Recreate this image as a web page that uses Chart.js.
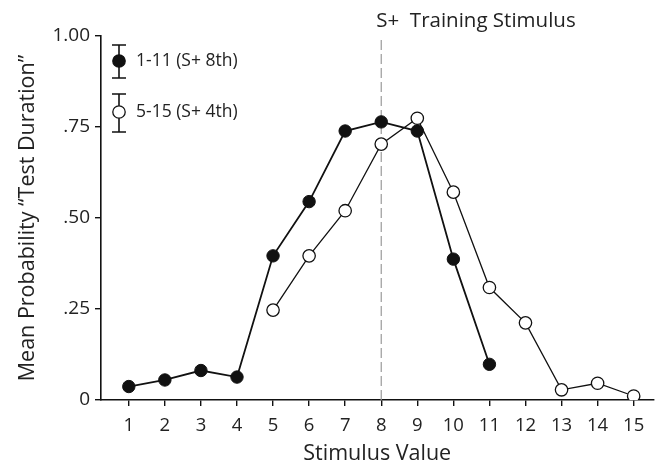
<!DOCTYPE html>
<html>
<head>
<meta charset="utf-8">
<script src="https://cdn.jsdelivr.net/npm/chart.js@4"></script>
<style>
  html, body { margin: 0; padding: 0; background: #fff; }
  #wrap { width: 661px; height: 467px; }
</style>
</head>
<body>
<div id="wrap"><canvas id="chart" width="661" height="467"></canvas></div>
<script>
'use strict';

// stimulus values (x)
var stimA = [1, 2, 3, 4, 5, 6, 7, 8, 9, 10, 11];
var stimB = [5, 6, 7, 8, 9, 10, 11, 12, 13, 14, 15];
// mean probability of "test duration"
var probA = [0.037, 0.055, 0.081, 0.063, 0.396, 0.545, 0.739, 0.764, 0.739, 0.387, 0.098];
var probB = [0.247, 0.396, 0.520, 0.703, 0.774, 0.571, 0.309, 0.212, 0.028, 0.046, 0.011];
var labelA = '1-11 (S+ 8th)';
var labelB = '5-15 (S+ 4th)';
var xTicks = [1, 2, 3, 4, 5, 6, 7, 8, 9, 10, 11, 12, 13, 14, 15];
var yTicks = [0, 0.25, 0.5, 0.75, 1.0];
var yTickLabels = ['0', '.25', '.50', '.75', '1.00'];
var trainingStim = 8;

var FONT = '"Open Sans", "DejaVu Sans", sans-serif';

function toXY(xs, ys) {
    var out = [];
    for (var i = 0; i < xs.length; ++i) {
        out.push({ x: xs[i], y: ys[i] });
    }
    return out;
}

// title over the dashed line plus the little legend with error bars
var annotate = {
    id: 'annotate',
    afterDraw: function (chart) {
        var ctx = chart.ctx;
        var xs = chart.scales.x;
        ctx.save();
        ctx.fillStyle = '#222';
        ctx.textBaseline = 'alphabetic';
        ctx.textAlign = 'left';
        ctx.font = '20.5px ' + FONT;
        ctx.fillText('S+  Training Stimulus', xs.getPixelForValue(trainingStim) - 5, 27);

        var items = [
            { cy: 61, top: 45, bot: 78, fill: '#111', text: labelA },
            { cy: 112, top: 94, bot: 132, fill: '#fff', text: labelB }
        ];
        var cx = 119;
        ctx.strokeStyle = '#111';
        ctx.lineWidth = 1.6;
        for (var i = 0; i < items.length; ++i) {
            var it = items[i];
            ctx.beginPath();
            ctx.moveTo(cx, it.top); ctx.lineTo(cx, it.bot);
            ctx.moveTo(cx - 7, it.top); ctx.lineTo(cx + 7, it.top);
            ctx.moveTo(cx - 7, it.bot); ctx.lineTo(cx + 7, it.bot);
            ctx.stroke();
            ctx.beginPath();
            ctx.arc(cx, it.cy, 6.2, 0, Math.PI * 2);
            ctx.fillStyle = it.fill;
            ctx.fill();
            ctx.lineWidth = 1.3;
            ctx.stroke();
            ctx.lineWidth = 1.6;
            ctx.fillStyle = '#222';
            ctx.font = '17.5px ' + FONT;
            ctx.textBaseline = 'middle';
            ctx.fillText(it.text, 136, it.cy);
        }
        ctx.restore();
    }
};

var ctx = document.getElementById('chart').getContext('2d');
var chart = new Chart(ctx, {
    type: 'line',
    data: {
        datasets: [
            {
                label: labelA,
                data: toXY(stimA, probA),
                borderColor: '#111',
                borderWidth: 1.8,
                backgroundColor: '#111',
                pointBackgroundColor: '#111',
                pointBorderColor: '#111',
                pointBorderWidth: 1,
                pointRadius: 6.2,
                tension: 0,
                order: 0
            },
            {
                label: labelB,
                data: toXY(stimB, probB),
                borderColor: '#111',
                borderWidth: 1.3,
                backgroundColor: '#fff',
                pointBackgroundColor: '#fff',
                pointBorderColor: '#111',
                pointBorderWidth: 1.3,
                pointRadius: 6.2,
                tension: 0,
                order: 1
            },
            {
                label: 'S+',
                data: [{ x: trainingStim, y: 0 }, { x: trainingStim, y: 0.995 }],
                borderColor: '#999',
                borderWidth: 1.2,
                borderDash: [10, 4],
                pointRadius: 0,
                order: 2
            }
        ]
    },
    options: {
        responsive: false,
        animation: false,
        layout: { padding: { top: 36, right: 3, left: 0, bottom: 0 } },
        plugins: {
            legend: { display: false },
            tooltip: { enabled: false },
            title: { display: false }
        },
        scales: {
            x: {
                type: 'linear',
                min: 0.229,
                max: 15.55,
                afterBuildTicks: function (axis) {
                    axis.ticks = xTicks.map(function (v) { return { value: v }; });
                },
                afterFit: function (axis) {
                    axis.height = 67;
                    axis.paddingLeft = 0;
                    axis.paddingRight = 0;
                },
                grid: { display: true, drawOnChartArea: false, drawTicks: true, tickLength: 6, color: '#111', lineWidth: 1.4 },
                border: { display: true, color: '#111', width: 1.6 },
                ticks: { color: '#222', font: { family: FONT, size: 18.5 }, padding: 9, maxRotation: 0, autoSkip: false },
                title: { display: true, text: 'Stimulus Value', color: '#222', font: { family: FONT, size: 21.5 }, padding: { top: 3, bottom: 0 } }
            },
            y: {
                min: 0,
                max: 1,
                afterBuildTicks: function (axis) {
                    axis.ticks = yTicks.map(function (v) { return { value: v }; });
                },
                afterFit: function (axis) { axis.width = 101; },
                grid: { display: true, drawOnChartArea: false, drawTicks: true, tickLength: 6, color: '#111', lineWidth: 1.4 },
                border: { display: true, color: '#111', width: 1.6 },
                ticks: {
                    color: '#222',
                    font: { family: FONT, size: 19 },
                    padding: 5,
                    callback: function (v) {
                        var i = yTicks.indexOf(v);
                        return i >= 0 ? yTickLabels[i] : '';
                    }
                },
                title: { display: true, text: 'Mean Probability \u201CTest Duration\u201D', color: '#222', font: { family: FONT, size: 21.5 }, padding: { top: 15, bottom: 4 } }
            }
        }
    },
    plugins: [annotate]
});
</script>
</body>
</html>
